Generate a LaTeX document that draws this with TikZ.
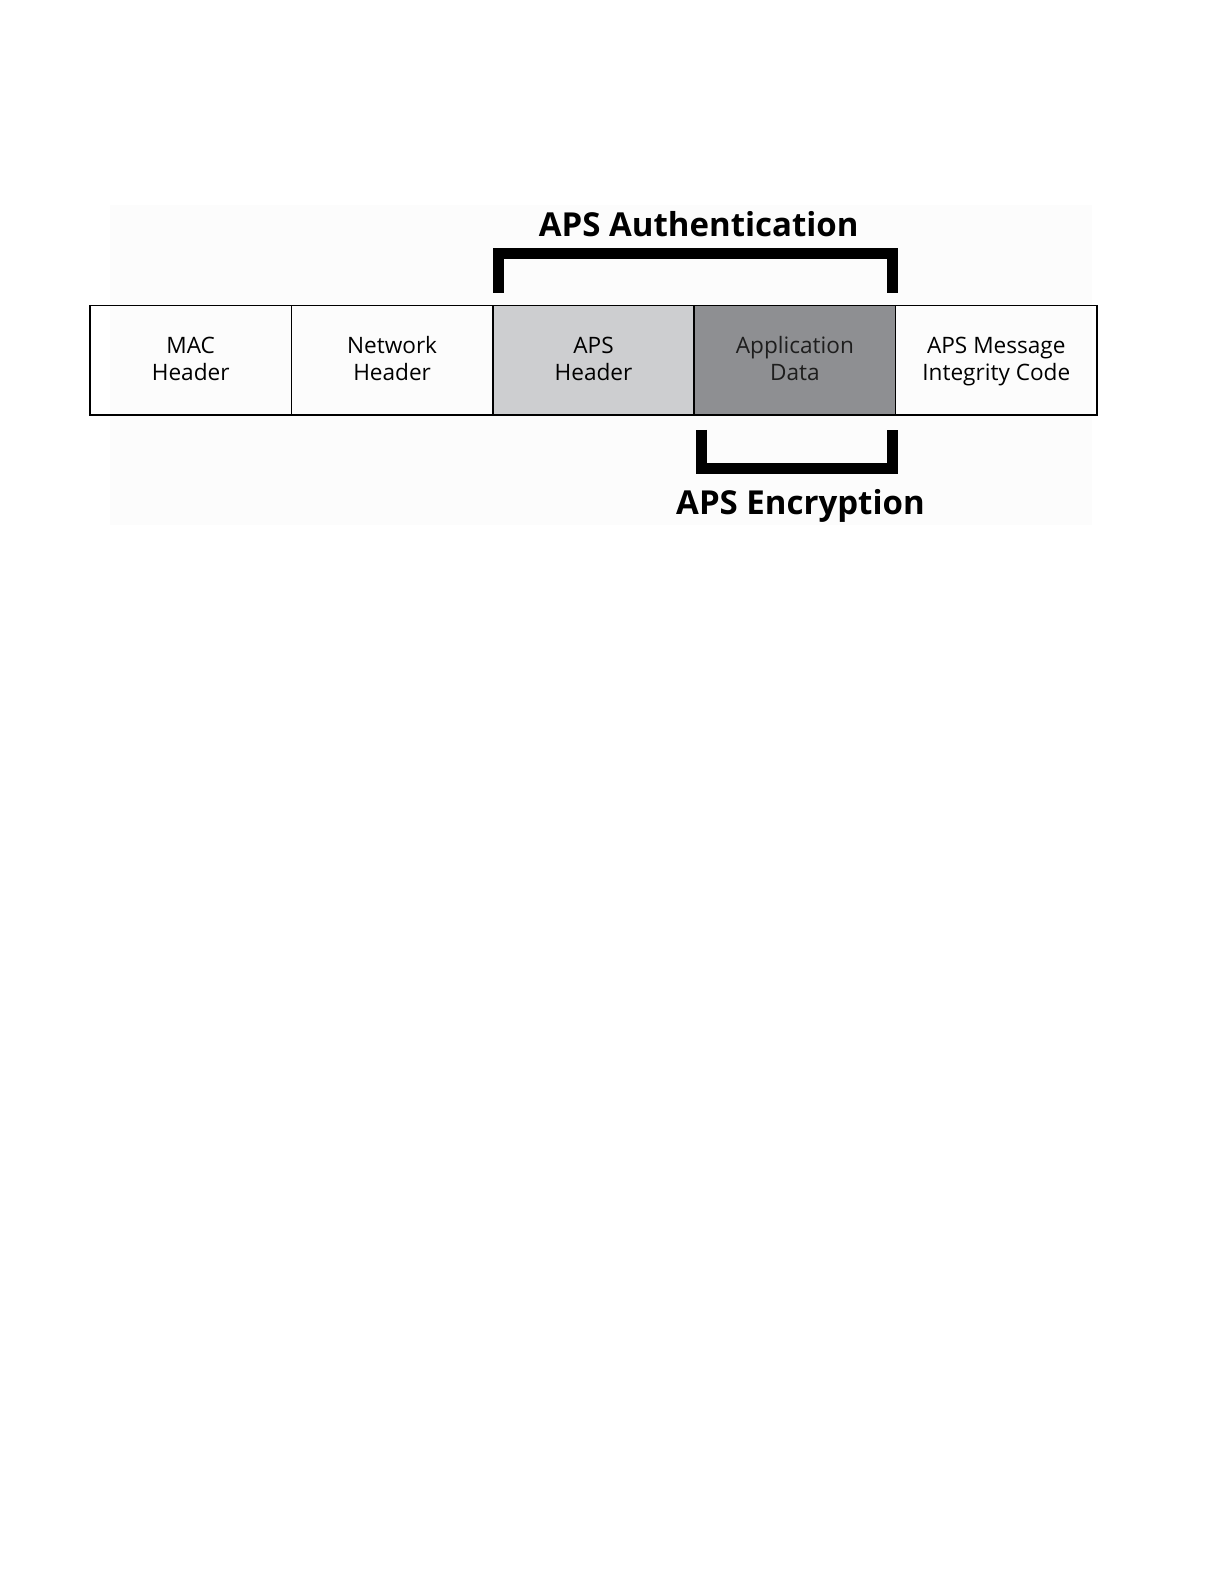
\documentclass[tikz,border=0pt]{standalone}
\usepackage{fontspec}
\setmainfont{Open Sans}
\usetikzlibrary{positioning}
\definecolor{apsgray}{HTML}{CDCED0}
\definecolor{datagray}{HTML}{8E8F92}
\definecolor{datatext}{HTML}{1E1E1E}
\tikzset{
	field/.style={draw=black, line width=0.75pt, minimum width=100.7pt, minimum height=54.6pt, inner sep=0pt, outer sep=0pt, text height=20.6pt, text depth=0pt, align=center, font=\fontsize{11.3}{13.5}\selectfont},
	bracket/.style={line width=5.5pt, line join=miter},
	title/.style={font=\fontsize{16.5}{20}\selectfont\bfseries}
}
\begin{document}
\begin{tikzpicture}[x=0.5pt, y=-0.5pt]
		\useasboundingbox (0,0) rectangle (1224,1584);
		\fill[white] (0,0) rectangle (1224,1584);
		\fill[black!1] (110,205) rectangle (1092,525);
		\node[field, anchor=north west] (mac) at (90,305.7) {MAC\\Header};
		\node[field, right=0pt of mac] (nwk) {Network\\Header};
		\node[field, fill=apsgray, right=0pt of nwk] (aps) {APS\\Header};
		\node[field, fill=datagray, text=datatext, right=0pt of aps] (data) {Application\\Data};
		\node[field, right=0pt of data] (mic) {APS Message\\Integrity Code};
		\draw[bracket] ([xshift=2.75pt, yshift=6.5pt]aps.north west) -- ++(0,19.5pt) -| ([xshift=-1.75pt, yshift=6.5pt]data.north east);
		\draw[bracket] ([xshift=3.5pt, yshift=-7.5pt]data.south west) -- ++(0,-19.25pt) -| ([xshift=-1.75pt, yshift=-7.5pt]data.south east);
		\node[title, anchor=base] (auth) at ([xshift=2.3pt, yshift=34.85pt]data.north west) {APS Authentication};
		\node[title, anchor=base] (enc) at ([xshift=2.8pt, yshift=-50pt]data.south) {APS Encryption};
\end{tikzpicture}
\end{document}
